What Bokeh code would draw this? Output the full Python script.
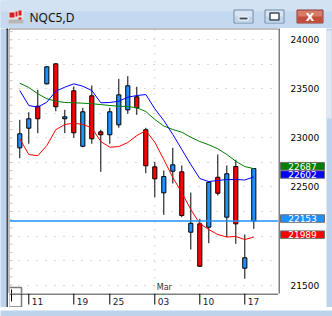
from bokeh.plotting import figure
from bokeh.layouts import column, row
from bokeh.models import Range1d, FixedTicker, Span, ColumnDataSource
from bokeh.core.properties import value
from bokeh.embed import file_html
from bokeh.resources import INLINE

# ---------------- data ----------------
window_title = "NQC5,D"
bar_index = list(range(27))
opens = [22899, 23099, 23323, 23551, 23755, 23195, 23480, 22915, 23429, 23062, 23032, 23133, 23286, 23419,
         23083, 22705, 22440, 22660, 22654, 22039, 22124, 22090, 22599, 22192, 22708, 21672, 22153]
highs = [23184, 23262, 23490, 23730, 23760, 23286, 23524, 23307, 23534, 23083, 23307, 23602, 23629, 23521,
         23103, 22756, 22668, 22899, 22719, 22443, 22175, 22555, 22831, 22719, 22777, 22015, 22690]
lows = [22793, 22940, 23048, 23545, 23272, 23048, 23001, 22905, 22940, 22654, 22940, 23103, 23246, 23235,
        22640, 22395, 22216, 22535, 22192, 21862, 21685, 21927, 22413, 21988, 21920, 21564, 22073]
closes = [23042, 23195, 23195, 23725, 23317, 23215, 23052, 23266, 22991, 23032, 23266, 23439, 23531, 23307,
          22716, 22583, 22606, 22726, 22209, 22130, 21692, 22548, 22436, 22634, 22124, 21778, 22688]
ma_fast = [23483, 23330, 23313, 23364, 23476, 23517, 23551, 23527, 23483, 23358, 23361, 23374, 23415, 23432,
           23442, 23297, 23177, 23035, 22882, 22729, 22586, 22555, 22566, 22576, 22576, 22571, 22602]
ma_slow = [23558, 23514, 23450, 23399, 23374, 23361, 23358, 23354, 23348, 23340, 23330, 23323, 23320, 23307,
           23269, 23188, 23121, 23086, 23058, 23007, 22963, 22930, 22889, 22831, 22762, 22708, 22687]
ma_low = [22991, 22831, 22818, 22922, 23083, 23137, 23150, 23137, 23103, 22963, 22905, 22912, 22953, 23024,
          23075, 22956, 22780, 22596, 22443, 22270, 22127, 22066, 22015, 21990, 21995, 21964, 21989]
last_price = 22153
price_ticks = [21500, 22500, 23000, 23500, 24000]
price_tick_labels = ["21500", "22500", "23000", "23500", "24000"]
grid_levels = [21500, 21750, 22000, 22250, 22500, 22750, 23000, 23250, 23500, 23750, 24000]
date_ticks = [1, 6, 10, 15, 20, 25]
date_labels = ["11", "19", "25", "03", "10", "17"]
month_start = 15
month_name = "Mar"

UP = "#1e90ff"
DOWN = "#ff0000"
FRAME = "#bcd3eb"
FONT = "DejaVu Sans"

# shared scales (main frame: x 9..278 px, y 29..293 px of the window)
X_RANGE = Range1d(-1.144, 28.744)
Y_RANGE = Range1d(21414, 24105)


def bare_fig(w, h, xr, yr, bg, left=0):
    f = figure(width=w, height=h, x_range=xr, y_range=yr, output_backend="svg",
               toolbar_location=None, x_axis_location=None, y_axis_location=None,
               min_border=0, min_border_left=left, min_border_right=0, min_border_top=0, min_border_bottom=0,
               outline_line_color=None, background_fill_color=bg, border_fill_color="white")
    f.grid.visible = False
    return f


def rects(f, boxes, fill, line=None, lw=1):
    f.quad(left=[b[0] for b in boxes], top=[b[1] for b in boxes], right=[b[2] for b in boxes],
           bottom=[b[3] for b in boxes], fill_color=fill, line_color=line, line_width=lw)


# ---------------- title bar ----------------
tb = bare_fig(332, 28, Range1d(0, 332), Range1d(28, 0), FRAME)
rects(tb, [(0, 0, 332, 28)], "#c4d9ef")
rects(tb, [(0, 0, 332, 11)], "#d2e2f3")
rects(tb, [(8, 10, 23, 23)], "#e4e4e4")
rects(tb, [(8, 19, 23, 23)], "#b6b6b6")
rects(tb, [(9, 12, 14, 17), (15, 11, 17, 16), (18, 10, 21, 15), (18, 17, 21, 19)], "#d42020")
tb.text(x=[29], y=[16.5], text=[window_title], text_font=value("Noto Sans"), text_font_size="12px",
        text_color="#111111", text_baseline="middle")
rects(tb, [(233.5, 9.5, 252.5, 22.5), (264.5, 9.5, 283.5, 22.5)], "#d8e5f3", line="#6f87a6")
rects(tb, [(234.5, 16, 251.5, 22), (265.5, 16, 282.5, 22)], "#c2d4ea")
rects(tb, [(238.5, 16.5, 247.5, 19.5)], "#3d4c5e", line="white")
rects(tb, [(269.5, 12.5, 278.5, 19.5)], "white", line="#3d4c5e", lw=1.5)
rects(tb, [(296.5, 9.5, 322.5, 22.5)], "#d77a66", line="#8c3a3a")
rects(tb, [(297.5, 16, 321.5, 22)], "#c44c3b")
tb.text(x=[309.5], y=[16.5], text=["X"], text_font=value("DejaVu Sans"), text_font_size="11px",
        text_font_style="bold", text_color="white", text_align="center", text_baseline="middle")

# ---------------- side strips ----------------
ls = bare_fig(8, 279, Range1d(0, 8), Range1d(279, 0), FRAME)
rects(ls, [(6, 0, 8, 279)], "#4a4a4a")
rects(ls, [(6, 0, 8, 1)], "black")
rs = bare_fig(6, 279, Range1d(0, 6), Range1d(279, 0), FRAME)
rects(rs, [(0, 2, 5, 90)], "#dfe7f0")
bs = bare_fig(332, 9, Range1d(0, 332), Range1d(9, 0), FRAME)

# ---------------- main chart ----------------
src = ColumnDataSource(dict(
    x=bar_index, high=highs, low=lows,
    top=[max(o, c) for o, c in zip(opens, closes)],
    bottom=[min(o, c) for o, c in zip(opens, closes)],
    color=[UP if c >= o else DOWN for o, c in zip(opens, closes)],
))

p = figure(width=270, height=265, x_range=X_RANGE, y_range=Y_RANGE,
           output_backend="svg", toolbar_location=None, x_axis_location=None, y_axis_location=None,
           min_border_left=1, min_border_right=0, min_border_top=1, min_border_bottom=0,
           border_fill_color="black", background_fill_color="white", outline_line_color=None)
p.xgrid.visible = False
p.ygrid.ticker = FixedTicker(ticks=grid_levels)
p.ygrid.grid_line_color = "#b4b4b4"
p.ygrid.grid_line_dash = "1 8"

# faint minor tick marks along the left edge (three per grid step)
minor_levels = [g + i * 250 / 3 for g in [21250] + grid_levels for i in range(3)]
minor_levels = [m for m in minor_levels if Y_RANGE.start < m < Y_RANGE.end]
p.segment(x0=[X_RANGE.start] * len(minor_levels), y0=minor_levels,
          x1=[X_RANGE.start + 0.33] * len(minor_levels), y1=minor_levels, line_color="#c4c4c4", line_width=1)

p.add_layout(Span(location=month_start, dimension="height", line_color="#b4b4b4", line_dash="1 7",
                  level="underlay"))

p.segment(x0="x", y0="high", x1="x", y1="low", source=src, line_color="black", line_width=1)
p.vbar(x="x", width=0.46, top="top", bottom="bottom", source=src, fill_color="color",
       line_color="black", line_width=1)

p.line(bar_index, ma_slow, line_color="#008000", line_width=1)
p.line(bar_index, ma_fast, line_color="#0000ff", line_width=1)
p.line(bar_index, ma_low, line_color="#ff0000", line_width=1)

p.add_layout(Span(location=last_price, dimension="width", line_color=UP, line_width=1.5))

p.text(x=[month_start], y=[21480], text=[month_name], x_offset=2, text_font=value(FONT),
       text_font_size="8px", text_color="#3a3426", text_baseline="middle")

# bottom-left marker box (upper part)
p.quad(left=[-1.2], right=[0.19], top=[21475], bottom=[21300], fill_color="white", line_color="#7a7a7a",
       line_width=1.5)
p.segment(x0=[-0.92], y0=[21455], x1=[-0.92], y1=[21300], line_color="black", line_width=1)

# ---------------- date axis strip ----------------
dx = bare_fig(270, 14, X_RANGE, Range1d(14, 0), "white", left=1)
dx.add_layout(Span(location=0.5, dimension="width", line_color="black", line_width=1))
dx.segment(x0=date_ticks, y0=[0] * len(date_ticks), x1=date_ticks, y1=[11] * len(date_ticks),
           line_color="black", line_width=1)
dx.text(x=date_ticks, y=[7.5] * len(date_ticks), text=date_labels, x_offset=3, text_font=value(FONT),
        text_font_size="9px", text_color="#1a1a2a", text_baseline="middle")
dx.quad(left=[-1.2], right=[0.19], top=[-1], bottom=[13.5], fill_color="white", line_color="#7a7a7a",
        line_width=1.5)
dx.segment(x0=[-0.92], y0=[-1], x1=[-0.92], y1=[8], line_color="black", line_width=1)

# ---------------- price axis strip ----------------
# window y 28..307 px, same units per pixel as the main frame
ax = bare_fig(48, 279, Range1d(0, 48), Range1d(21271.3, 24115.2), "white")
ax.segment(x0=[0.5], y0=[24115.2], x1=[0.5], y1=[21414], line_color="black", line_width=1)
ax.segment(x0=[0], y0=[24110], x1=[1], y1=[24110], line_color="black", line_width=1)
ax.text(x=[12] * len(price_ticks), y=price_ticks, text=price_tick_labels, text_font=value(FONT),
        text_font_size="9px", text_color="black", text_baseline="middle")

box_values = [ma_slow[-1], ma_fast[-1], last_price, ma_low[-1]]
box_colors = ["#008000", "#0000ff", UP, "#ff0000"]
ax.quad(left=[2] * 4, right=[46] * 4, top=[v + 63 for v in box_values], bottom=[v - 13 for v in box_values],
        fill_color=box_colors, line_color="#6a6a6a", line_width=1)
ax.text(x=[24] * 4, y=[v + 25 for v in box_values], text=[str(v) for v in box_values], text_font=value(FONT),
        text_font_size="9px", text_color="white", text_align="center", text_baseline="middle")

page = column(tb, row(ls, column(p, dx, spacing=0), ax, rs, spacing=0), bs, spacing=0)
open("out.html", "w").write(file_html(page, INLINE))
